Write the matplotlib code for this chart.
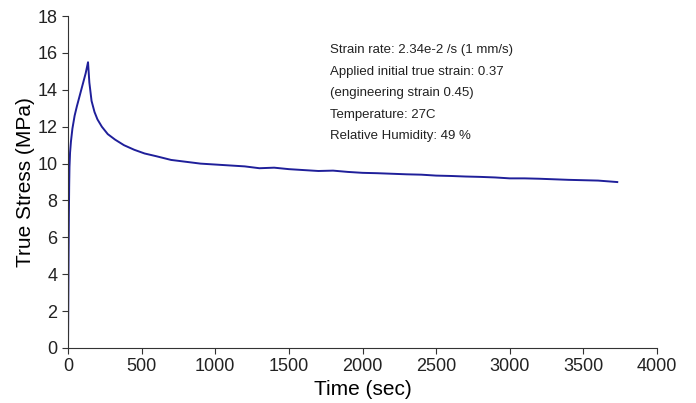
import matplotlib.pyplot as plt

plt.rcParams['font.family'] = ['Liberation Sans', 'DejaVu Sans']

# time (sec) and true stress (MPa)
time = [0, 2, 4, 6, 8, 10, 14, 20, 30, 45, 60, 80, 100, 120, 136,
        145, 160, 180, 200, 230, 270, 320, 380, 450, 520, 600, 700, 800,
        900, 1000, 1100, 1200, 1300, 1400, 1500, 1600, 1700, 1800, 1900,
        2000, 2100, 2200, 2300, 2400, 2500, 2600, 2700, 2800, 2900, 3000,
        3100, 3200, 3300, 3400, 3500, 3600, 3730]
stress = [0, 2.5, 5.0, 7.2, 8.8, 9.8, 10.6, 11.2, 11.9, 12.6, 13.1, 13.7, 14.3, 14.9, 15.5,
          14.4, 13.4, 12.8, 12.4, 12.0, 11.6, 11.3, 11.0, 10.75, 10.55, 10.4, 10.2, 10.1,
          10.0, 9.95, 9.9, 9.85, 9.75, 9.78, 9.7, 9.65, 9.6, 9.62, 9.55,
          9.5, 9.48, 9.45, 9.42, 9.4, 9.35, 9.33, 9.3, 9.28, 9.25, 9.2,
          9.2, 9.18, 9.15, 9.12, 9.1, 9.08, 9.0]

notes = ["Strain rate: 2.34e-2 /s (1 mm/s)",
         "Applied initial true strain: 0.37",
         "(engineering strain 0.45)",
         "Temperature: 27C",
         "Relative Humidity: 49 %"]

fig = plt.figure(figsize=(6.96, 4.03), dpi=100)
ax = fig.add_axes([0.0977, 0.1365, 0.8463, 0.8235])
ax.plot(time, stress, color='#1f1f9a', linewidth=1.4)

ax.set_xlim(0, 4000)
ax.set_ylim(0, 18)
ax.set_xticks(range(0, 4001, 500))
ax.set_yticks(range(0, 19, 2))
ax.tick_params(labelsize=13, length=4, color='#333333', labelcolor='#222222')
ax.spines['top'].set_visible(False)
ax.spines['right'].set_visible(False)
ax.spines['left'].set_color('#333333')
ax.spines['bottom'].set_color('#333333')
ax.set_xlabel("Time (sec)", fontsize=15, labelpad=3)
ax.set_ylabel("True Stress (MPa)", fontsize=15, labelpad=2)

for i, s in enumerate(notes):
    ax.text(0.444, 0.898 - i * 0.065, s, transform=ax.transAxes,
            fontsize=9.5, color='#222222', va='center')

fig.savefig("out.png", dpi=100)
